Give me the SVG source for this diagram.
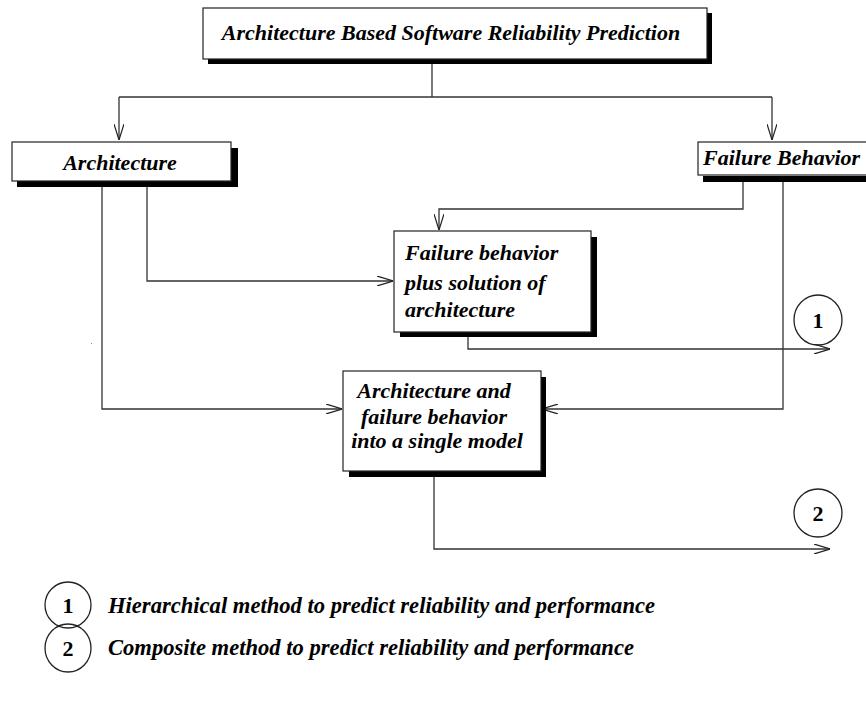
<svg xmlns="http://www.w3.org/2000/svg" width="866" height="702" viewBox="0 0 866 702">
<defs>
<marker id="arr" viewBox="0 0 16 10" refX="16" refY="5" markerWidth="16" markerHeight="10" markerUnits="userSpaceOnUse" orient="auto">
<path d="M0,0 L16,5 L0,10" fill="none" stroke="#222" stroke-width="1.2"/>
</marker>
<style>
.box{fill:#fff;stroke:#222;stroke-width:1.2}
.sh{fill:#000}
.t{font-family:"Liberation Serif","Times New Roman",serif;font-weight:bold;font-style:italic;font-size:22px;fill:#000}
.lg{font-family:"Liberation Serif","Times New Roman",serif;font-weight:bold;font-style:italic;font-size:24px;fill:#000}
.n{font-family:"Liberation Serif","Times New Roman",serif;font-weight:bold;font-size:22px;fill:#000}
.c{fill:none;stroke:#222;stroke-width:1.3}
.ln{fill:none;stroke:#333;stroke-width:1.3}
</style>
</defs>
<rect width="866" height="702" fill="#fff"/>
<g id="connectors">
<path class="ln" d="M432,64 V97"/>
<path class="ln" d="M119,97 H772"/>
<path class="ln" d="M119,97 V140" marker-end="url(#arr)"/>
<path class="ln" d="M772,97 V140" marker-end="url(#arr)"/>
<path class="ln" d="M147,187 V281 H393" marker-end="url(#arr)"/>
<path class="ln" d="M743,182 V209 H439 V230" marker-end="url(#arr)"/>
<path class="ln" d="M468,337 V349 H830" marker-end="url(#arr)"/>
<path class="ln" d="M102,187 V409 H342" marker-end="url(#arr)"/>
<path class="ln" d="M783,182 V409 H542" marker-end="url(#arr)"/>
<path class="ln" d="M434,477 V549 H830" marker-end="url(#arr)"/>
</g>
<g id="top">
<rect class="sh" x="208" y="13" width="504" height="51"/>
<rect class="box" x="203" y="8" width="504" height="51"/>
<text class="t" x="451" y="40" text-anchor="middle">Architecture Based Software Reliability Prediction</text>
</g>
<g id="architecture">
<rect class="sh" x="17" y="148" width="221" height="39"/>
<rect class="box" x="12" y="142" width="219" height="39"/>
<text class="t" x="120" y="170" text-anchor="middle">Architecture</text>
</g>
<g id="failure-behavior">
<rect class="sh" x="703" y="176" width="170" height="6"/>
<rect class="box" x="698" y="142" width="175" height="33"/>
<text class="t" x="703" y="165">Failure Behavior</text>
</g>
<g id="hierarchical-box">
<rect class="sh" x="400" y="237" width="197" height="100"/>
<rect class="box" x="394" y="231" width="197" height="101"/>
<text class="t" x="405" y="260">Failure behavior</text>
<text class="t" x="405" y="290">plus solution of</text>
<text class="t" x="405" y="317">architecture</text>
</g>
<g id="composite-box">
<rect class="sh" x="349" y="377" width="197" height="100"/>
<rect class="box" x="343" y="371" width="198" height="100"/>
<text class="t" x="434" y="398" text-anchor="middle">Architecture and</text>
<text class="t" x="434" y="424" text-anchor="middle">failure behavior</text>
<text class="t" x="437" y="448" text-anchor="middle">into a single model</text>
</g>
<g id="marker-1">
<ellipse class="c" cx="818" cy="320" rx="24" ry="25"/>
<text class="n" x="818" y="328" text-anchor="middle">1</text>
</g>
<g id="marker-2">
<ellipse class="c" cx="818" cy="513" rx="24" ry="24"/>
<text class="n" x="818" y="521" text-anchor="middle">2</text>
</g>
<g id="legend-1">
<ellipse class="c" cx="68" cy="605" rx="23" ry="23"/>
<text class="n" x="68" y="613" text-anchor="middle">1</text>
<text class="lg" x="108" y="613" textLength="547" lengthAdjust="spacingAndGlyphs">Hierarchical method  to predict reliability and performance</text>
</g>
<g id="legend-2">
<ellipse class="c" cx="68" cy="648" rx="23" ry="24"/>
<text class="n" x="68" y="656" text-anchor="middle">2</text>
<text class="lg" x="108" y="655" textLength="526" lengthAdjust="spacingAndGlyphs">Composite method  to predict reliability and performance</text>
</g>
<rect x="91" y="343" width="1" height="1" fill="#888"/>
</svg>
